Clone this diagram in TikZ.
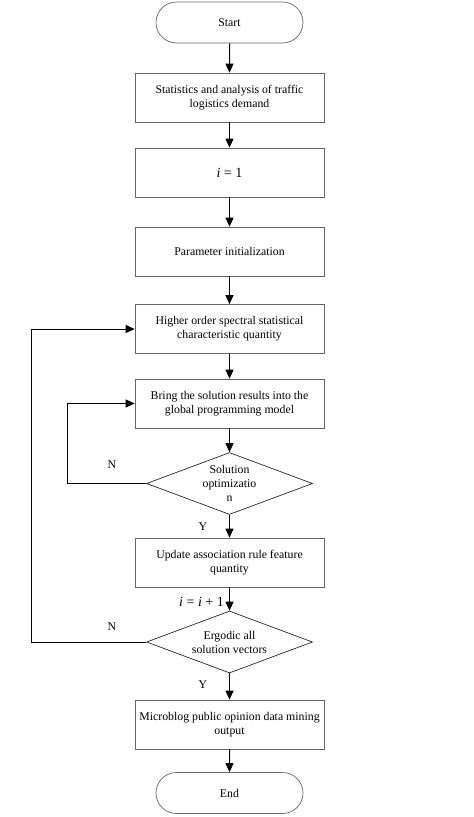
\documentclass[tikz,border=0pt]{standalone}
\usepackage{fontspec}
\setmainfont{Liberation Serif}
\usetikzlibrary{shapes.geometric,shapes.misc,arrows.meta}
\begin{document}
\begin{tikzpicture}[x=1pt,y=-1pt,
  box/.style={draw=black!60, line width=0.7pt, minimum width=189pt, minimum height=49pt, align=center, font=\fontsize{11.8}{14}\selectfont, inner sep=2pt},
  term/.style={rounded rectangle, draw=black!60, line width=0.7pt, minimum width=147pt, minimum height=41pt, inner xsep=0pt, font=\fontsize{11.8}{14}\selectfont},
  dec/.style={diamond, draw=black!85, line width=0.7pt, minimum width=166pt, minimum height=62pt, inner sep=0pt, aspect=2.68, align=center, font=\fontsize{11.8}{14}\selectfont},
  arr/.style={-{Triangle[length=9pt,width=8pt]}, line width=1pt},
  lbl/.style={font=\fontsize{11.8}{12}\selectfont, inner sep=1pt}]
\useasboundingbox (0,0) rectangle (474,817);
\node[term] (start) at (229.5,22.5) {Start};
\node[box] (b1) at (229.5,97.5) {Statistics and analysis of traffic\\logistics demand};
\node[box, font=\fontsize{14}{14}\selectfont] (b2) at (229.5,172.5) {\textit{i} = 1};
\node[box] (b3) at (229.5,251.5) {Parameter initialization};
\node[box] (b4) at (229.5,329) {Higher order spectral statistical\\characteristic quantity};
\node[box] (b5) at (229.5,403.5) {Bring the solution results into the\\global programming model};
\node[dec] (d1) at (229.5,483.5) {Solution\\optimizatio\\n};
\node[box] (b6) at (229.5,562.5) {Update association rule feature\\quantity};
\node[dec] (d2) at (229.5,642) {Ergodic all\\solution vectors};
\node[box] (b7) at (229.5,724.5) {Microblog public opinion data mining\\output};
\node[term] (end) at (229.5,793) {End};
\coordinate (c1) at (67,483.5);
\coordinate (c2) at (31,642);
\draw[arr] (start) -- (b1);
\draw[arr] (b1) -- (b2);
\draw[arr] (b2) -- (b3);
\draw[arr] (b3) -- (b4);
\draw[arr] (b4) -- (b5);
\draw[arr] (b5) -- (d1);
\draw[arr] (d1) -- (b6);
\draw[arr] (b6) -- (d2);
\draw[arr] (d2) -- (b7);
\draw[arr] (b7) -- (end);
\draw[arr] (d1.west) -- (c1) |- (b5.west);
\draw[arr] (d2.west) -- (c2) |- (b4.west);
\node[lbl] (n1) at (112,465) {N};
\node[lbl] (y1) at (203,527) {Y};
\node[lbl] (n2) at (112,627) {N};
\node[lbl] (y2) at (203,685) {Y};
\node[lbl, anchor=east, font=\fontsize{14}{14}\selectfont] (inc) at (225,602) {\textit{i} = \textit{i} + 1};
\end{tikzpicture}
\end{document}
